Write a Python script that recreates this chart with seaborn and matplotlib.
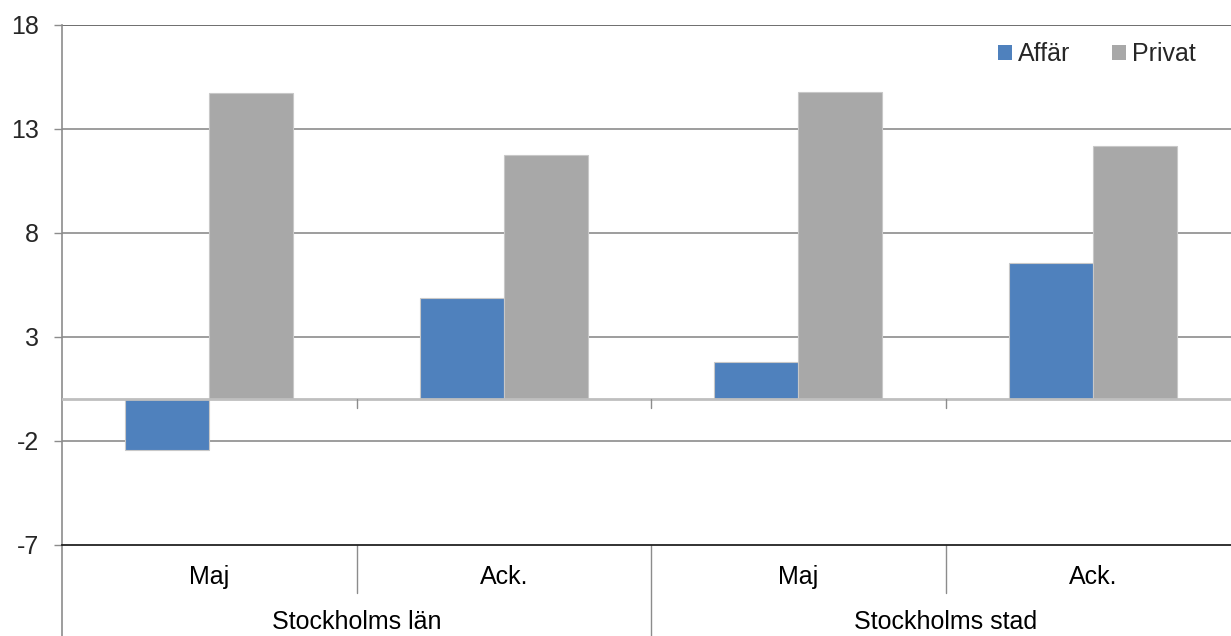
import matplotlib
matplotlib.use("Agg")
import pandas
import seaborn as sea
from matplotlib import pyplot
from matplotlib.patches import Patch

# values
groups = ["Stockholms län", "Stockholms stad"]
periods = ["Maj", "Ack."]
series = ["Affär", "Privat"]
affar = [-2.42, 4.86, 1.78, 6.54]
privat = [14.72, 11.76, 14.80, 12.18]
yticks = [-7, -2, 3, 8, 13, 18]

colors = {"Affär": "#4F81BD", "Privat": "#A8A8A8"}
FONT_SIZE = 18

keys = [f"{g} {p}" for g in groups for p in periods]
rows = []
for key, a, p in zip(keys, affar, privat):
    rows.append({"cat": key, "series": "Affär", "value": a})
    rows.append({"cat": key, "series": "Privat", "value": p})
dataframe = pandas.DataFrame(rows)

sea.set_theme(style="white")
pyplot.rcParams["font.family"] = ["Liberation Sans", "DejaVu Sans"]

figure = pyplot.figure(figsize=(12.31, 6.36), dpi=100)
axis = figure.add_axes([62 / 1231, 91 / 636, 1178 / 1231, 520 / 636])

sea.barplot(
    data=dataframe,
    x="cat",
    y="value",
    hue="series",
    order=keys,
    hue_order=series,
    palette=colors,
    width=0.57,
    gap=0,
    saturation=1,
    edgecolor="#C8C8C8",
    linewidth=0.8,
    legend=False,
    ax=axis,
    zorder=3,
)

axis.set_xlim(-0.5, 3.5)
axis.set_ylim(-7, 18)
axis.set_yticks(yticks)
axis.set_yticklabels([str(t) for t in yticks], fontsize=FONT_SIZE)
axis.set_xticks([])
axis.set_xlabel("")
axis.set_ylabel("")

# gridlines and zero line
for t in yticks[1:-1]:
    axis.axhline(t, color="#8C8C8C", lw=1.2, zorder=1)
axis.axhline(18, color="#555555", lw=1.2, zorder=1)
axis.axhline(0, color="#BFBFBF", lw=2, zorder=4)
for xs in [0.5, 1.5, 2.5]:
    axis.plot([xs, xs], [0, -0.4], color="#8C8C8C", lw=1, zorder=4)

for side in ["top", "right"]:
    axis.spines[side].set_visible(False)
axis.spines["bottom"].set_color("#222222")
axis.spines["bottom"].set_linewidth(1.3)
axis.spines["left"].set_color("#8C8C8C")
axis.spines["left"].set_linewidth(1.2)
axis.tick_params(axis="y", direction="out", length=5.8, color="#8C8C8C",
                 width=1, pad=11, left=True)

# two-level category axis
trans = axis.get_xaxis_transform()
bottom = -91 / 520
axis.plot([-0.5, -0.5], [0, bottom], transform=trans, color="#8C8C8C",
          lw=1.2, clip_on=False)
axis.plot([1.5, 1.5], [0, bottom], transform=trans, color="#8C8C8C",
          lw=1, clip_on=False)
for xs in [0.5, 2.5]:
    axis.plot([xs, xs], [0, -0.092], transform=trans, color="#8C8C8C",
              lw=1, clip_on=False)
for i, key in enumerate(keys):
    axis.text(i, -0.062, periods[i % 2], transform=trans, ha="center",
              va="center", fontsize=FONT_SIZE, color="black")
for j, g in enumerate(groups):
    axis.text(2 * j + 0.5, -0.148, g, transform=trans, ha="center",
              va="center", fontsize=FONT_SIZE, color="black")

handles = [Patch(facecolor=colors[s], edgecolor="none", label=s) for s in series]
figure.legend(
    handles=handles,
    loc="center",
    bbox_to_anchor=(1097 / 1231, 1 - 54 / 636),
    ncol=2,
    frameon=False,
    fontsize=FONT_SIZE,
    handlelength=0.56,
    handleheight=0.56,
    handletextpad=0.25,
    columnspacing=1.65,
    borderpad=0,
)

figure.savefig("out.png", dpi=100)
